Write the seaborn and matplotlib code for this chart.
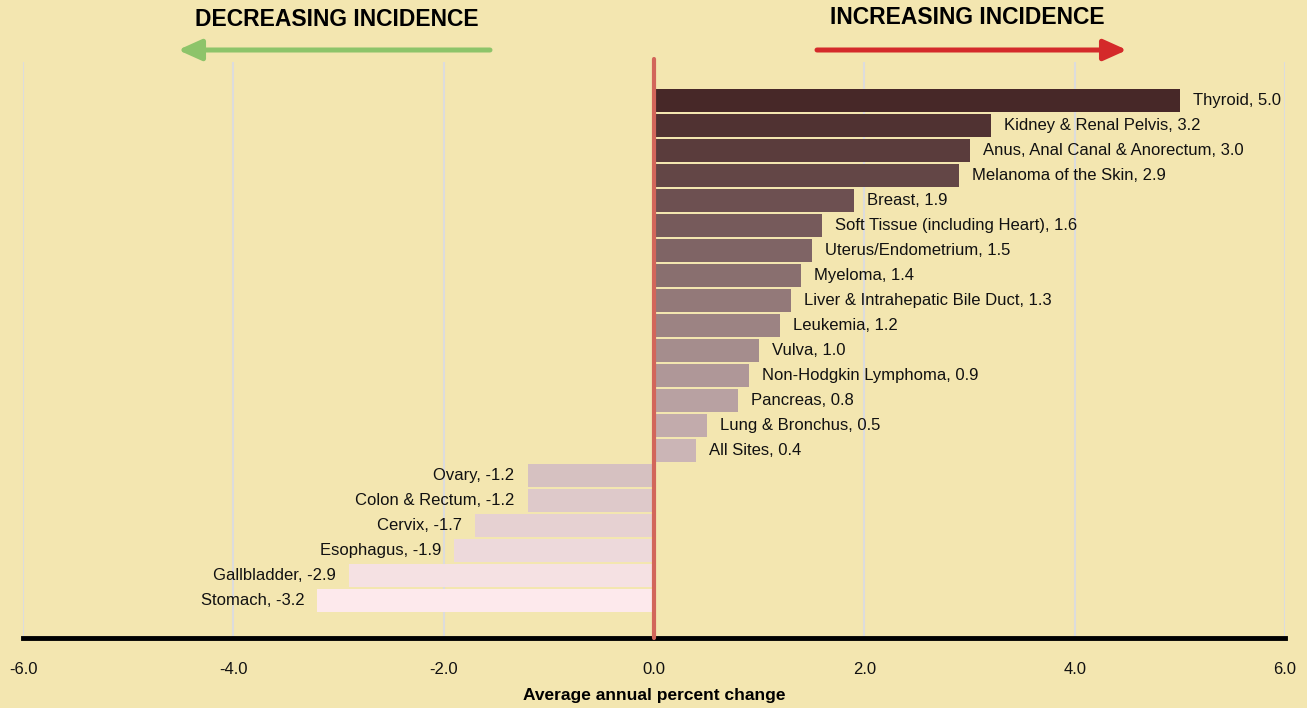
import matplotlib
matplotlib.use("Agg")
import matplotlib.pyplot as plt
import seaborn as sns
import pandas as pd
import numpy as np

categories = ["Thyroid", "Kidney & Renal Pelvis", "Anus, Anal Canal & Anorectum",
              "Melanoma of the Skin", "Breast", "Soft Tissue (including Heart)",
              "Uterus/Endometrium", "Myeloma", "Liver & Intrahepatic Bile Duct",
              "Leukemia", "Vulva", "Non-Hodgkin Lymphoma", "Pancreas",
              "Lung & Bronchus", "All Sites", "Ovary", "Colon & Rectum", "Cervix",
              "Esophagus", "Gallbladder", "Stomach"]
values = [5.0, 3.2, 3.0, 2.9, 1.9, 1.6, 1.5, 1.4, 1.3, 1.2, 1.0, 0.9, 0.8, 0.5, 0.4,
          -1.2, -1.2, -1.7, -1.9, -2.9, -3.2]
xticks = [-6.0, -4.0, -2.0, 0.0, 2.0, 4.0, 6.0]

df = pd.DataFrame({"cat": categories, "val": values})

BG = "#F3E6B0"
sns.set_theme(style="white")
plt.rcParams["font.family"] = ["Liberation Sans", "DejaVu Sans"]
plt.rcParams["text.color"] = "black"

fig = plt.figure(figsize=(13.07, 7.08), dpi=100, facecolor=BG)
W, H = 1307, 708
ax = fig.add_axes([23 / W, (H - 638) / H, (1285 - 23) / W, (638 - 62) / H])
ax.set_facecolor(BG)

n_pos = sum(1 for v in values if v >= 0)
n_neg = len(values) - n_pos
palette = sns.blend_palette(["#472828", "#CBB5B6"], n_pos) + \
          sns.blend_palette(["#D6C1C1", "#FDE9EC"], n_neg)

sns.barplot(data=df, x="val", y="cat", hue="cat", palette=palette, legend=False,
            orient="h", width=0.92, ax=ax, saturation=1, linewidth=0, zorder=3)

ax.set_xlim(-6, 6)
ax.set_ylim(len(categories) + 0.48, -1.52)

for g in xticks:
    if g != 0:
        ax.axvline(g, color="#DCDCDC", lw=1.5, zorder=1)
ax.axvline(0, color="#D2665A", lw=3, zorder=5, ymax=1.005, clip_on=False)

for i, (c, v) in enumerate(zip(categories, values)):
    if v >= 0:
        ax.annotate(f"{c}, {v:.1f}", (v, i), xytext=(9.5, 0), textcoords="offset points",
                    ha="left", va="center", fontsize=12, color="#111111", zorder=6)
    else:
        ax.annotate(f"{c}, {v:.1f}", (v, i), xytext=(-9.5, 0), textcoords="offset points",
                    ha="right", va="center", fontsize=12, color="#111111", zorder=6)

for s in ["top", "right", "left"]:
    ax.spines[s].set_visible(False)
ax.spines["bottom"].set_color("black")
ax.spines["bottom"].set_linewidth(3.5)
ax.set_xticks(xticks)
ax.set_xticklabels([f"{t:.1f}" for t in xticks], fontsize=12, color="#111111")
ax.tick_params(axis="x", direction="in", length=5, width=3, color="black", pad=17)
ax.set_yticks([])
ax.set_ylabel("")
ax.set_xlabel("Average annual percent change", fontsize=12.5, fontweight="bold",
              color="black", labelpad=8)

# headers and arrows
fig.text(337 / W, 1 - 20 / H, "DECREASING INCIDENCE", ha="center", va="center",
         fontsize=16.5, fontweight="bold", color="black")
fig.text(967 / W, 1 - 17 / H, "INCREASING INCIDENCE", ha="center", va="center",
         fontsize=16.5, fontweight="bold", color="black")
fig.add_artist(matplotlib.patches.FancyArrowPatch((490 / W, 1 - 50 / H), (178 / W, 1 - 50 / H),
               transform=fig.transFigure, arrowstyle="-|>,head_length=1.0,head_width=0.45",
               color="#8DC46A", lw=3.6, mutation_scale=14, shrinkA=0, shrinkB=0))
fig.add_artist(matplotlib.patches.FancyArrowPatch((817 / W, 1 - 50 / H), (1127 / W, 1 - 50 / H),
               transform=fig.transFigure, arrowstyle="-|>,head_length=1.0,head_width=0.45",
               color="#D42A2A", lw=3.6, mutation_scale=14, shrinkA=0, shrinkB=0))

fig.savefig("out.png", dpi=100, facecolor=BG)
